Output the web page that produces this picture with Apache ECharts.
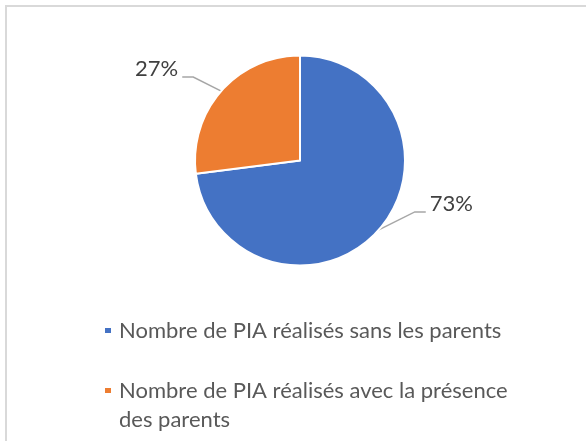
<!DOCTYPE html>
<html>
<head>
<meta charset="utf-8">
<script src="https://cdn.jsdelivr.net/npm/echarts@6/dist/echarts.min.js"></script>
<style>
html, body { margin: 0; padding: 0; background: #fff; }
#frame { position: absolute; left: 5px; top: 5px; width: 700px; height: 600px; border-top: 2px solid #d9d9d9; border-left: 2px solid #d9d9d9; box-sizing: border-box; }
#chart { position: absolute; left: 0; top: 0; width: 586px; height: 441px; }
</style>
</head>
<body>
<div id="frame"></div>
<div id="chart"></div>
<script>
const categories = [
  'Nombre de PIA réalisés sans les parents',
  'Nombre de PIA réalisés avec la présence des parents'
];
// legend text as shown (line breaks as in the reference; leading blank line keeps the icon on the first line)
const legendLabels = [
  'Nombre de PIA réalisés sans les parents',
  '\nNombre de PIA réalisés avec la présence\ndes parents'
];
const values = [73, 27];
const colors = ['#4472C4', '#ED7D31'];

const chart = echarts.init(document.getElementById('chart'), null, { renderer: 'canvas' });
const FONT = 'Lato, "Open Sans", sans-serif';
const CX = 300;

const option = {
  animation: false,
  backgroundColor: 'transparent',
  color: colors,
  legend: {
    orient: 'vertical',
    left: 103,
    top: 316,
    height: 300,
    padding: 0,
    itemWidth: 8,
    itemHeight: 7,
    itemGap: 2,
    icon: 'rect',
    formatter: function (name) { return legendLabels[categories.indexOf(name)]; },
    textStyle: { fontFamily: FONT, fontSize: 22, color: '#595959', lineHeight: 29, padding: [0, 0, 0, 2] },
    data: categories
  },
  series: [{
    type: 'pie',
    center: [300, 160.5],
    radius: 105,
    startAngle: 90,
    clockwise: true,
    percentPrecision: 0,
    itemStyle: { borderColor: '#fff', borderWidth: 2 },
    label: {
      show: true,
      formatter: '{d}%',
      fontFamily: FONT,
      fontSize: 22,
      color: '#404040'
    },
    labelLine: { show: true, length: 20, length2: 10, lineStyle: { color: '#a6a6a6', width: 1.5 } },
    labelLayout: function (p) {
      const pts = p.labelLinePoints;
      if (!pts) return {};
      const p0 = pts[0];
      const isLeft = p0[0] < CX;
      const sx = isLeft ? -1 : 1;
      const bend = isLeft ? [p0[0] - 28, p0[1] - 14] : [p0[0] + 36, p0[1] - 18];
      const end = [bend[0] + sx * 11, bend[1]];
      return {
        x: isLeft ? end[0] - 4 : end[0] + 4,
        y: end[1] - 8,
        align: isLeft ? 'right' : 'left',
        verticalAlign: 'middle',
        labelLinePoints: [p0, bend, end]
      };
    },
    data: categories.map((c, i) => ({ name: c, value: values[i] }))
  }]
};
chart.setOption(option);
</script>
</body>
</html>
